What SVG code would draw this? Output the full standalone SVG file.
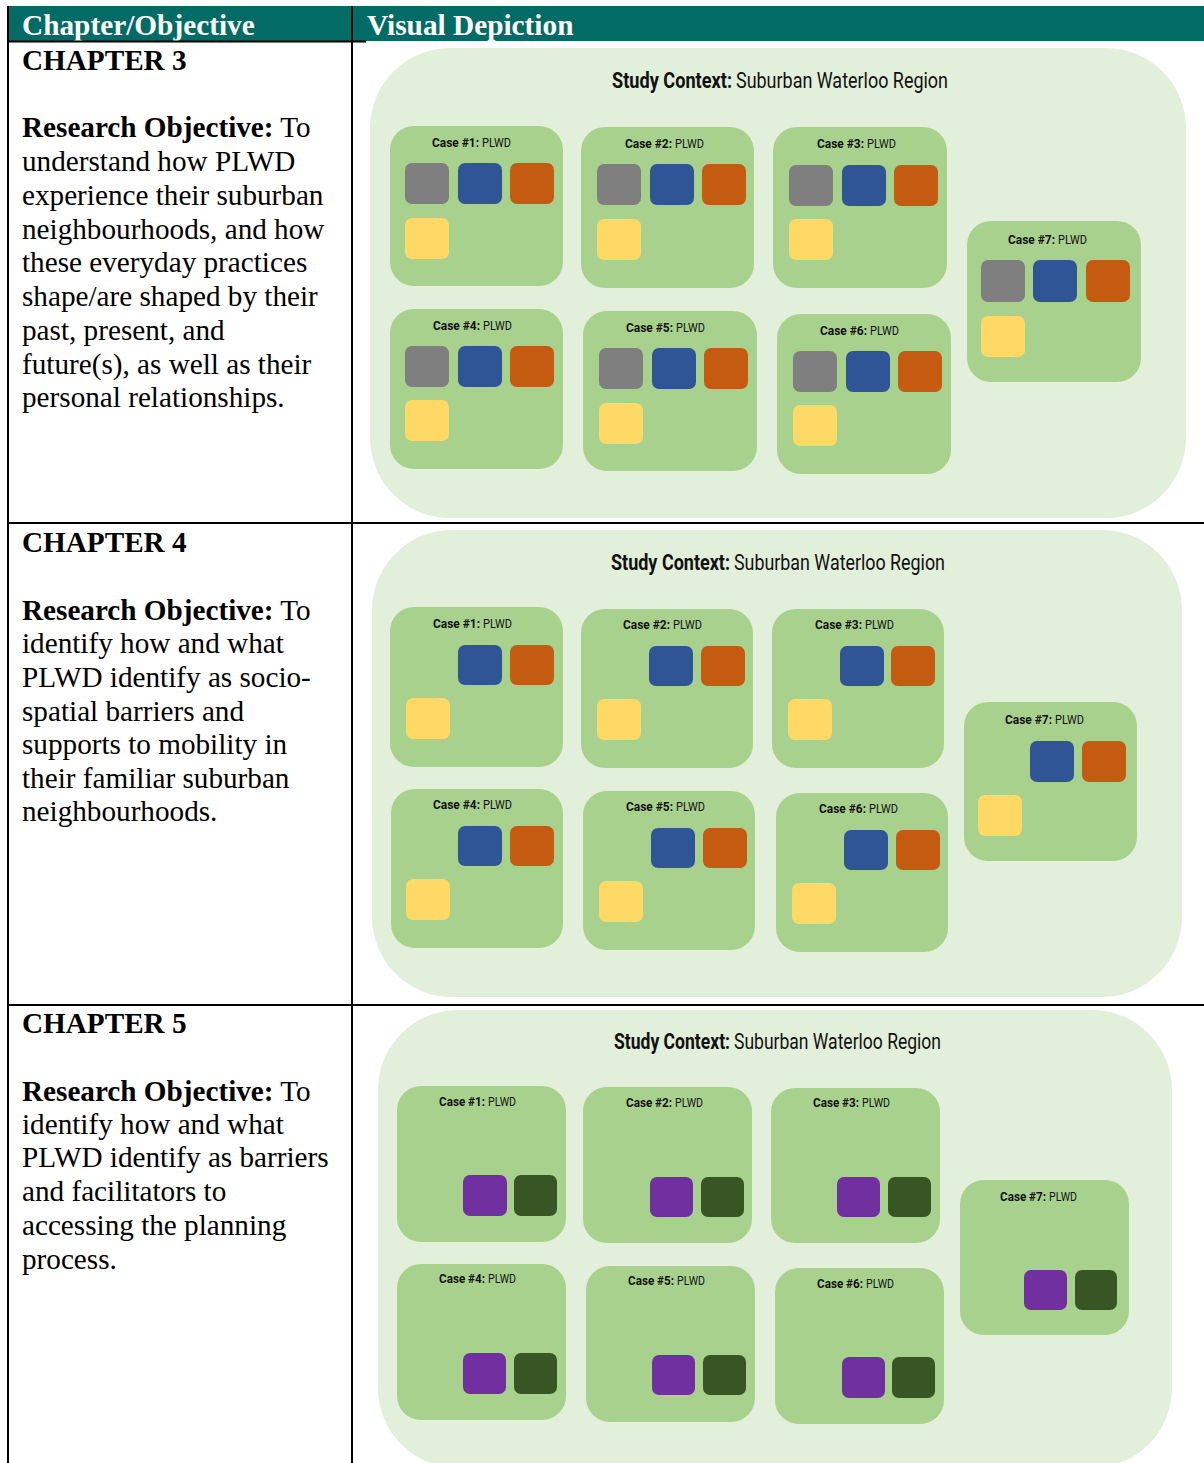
<svg xmlns="http://www.w3.org/2000/svg" width="1204" height="1463" viewBox="0 0 1204 1463">
<style>
.hdr{font-family:"Liberation Serif","Times New Roman",serif;font-weight:bold;font-size:29.3px;fill:#fff}
.lt{font-family:"Liberation Serif","Times New Roman",serif;font-size:29.2px;fill:#000}
.b{font-weight:bold}
.panel{fill:#E2EFDA}
.case{fill:#A9D18E}
.ttl{font-family:"Roboto","DejaVu Sans Condensed",sans-serif;font-size:22px;fill:#111}
.cl{font-family:"Roboto","DejaVu Sans Condensed",sans-serif;font-size:13.5px;fill:#111}
.g{fill:#7F7F7F}.bl{fill:#2F5597}.o{fill:#C55A11}.y{fill:#FFD966}.p{fill:#7030A0}.dg{fill:#375623}
.ln{stroke:#000;stroke-width:2;fill:none}
</style>
<rect width="1204" height="1463" fill="#fff"/>
<g id="table">
<rect x="7" y="6" width="1197" height="35" fill="#026B66"/>
<text class="hdr" x="22" y="35">Chapter/Objective</text>
<text class="hdr" x="367" y="35">Visual Depiction</text>
<line class="ln" x1="8" y1="6" x2="8" y2="1463"/>
<line class="ln" x1="352" y1="6" x2="352" y2="1463"/>
<line class="ln" x1="8" y1="41.5" x2="366" y2="41.5"/>
<line class="ln" x1="8" y1="523" x2="1204" y2="523"/>
<line class="ln" x1="8" y1="1005" x2="1204" y2="1005"/>
</g>
<g id="ch3-text">
<text class="lt b" x="22" y="70">CHAPTER 3</text>
<text class="lt" x="22" y="137"><tspan class="b">Research Objective:</tspan> To</text>
<text class="lt" x="22" y="171">understand how PLWD</text>
<text class="lt" x="22" y="205">experience their suburban</text>
<text class="lt" x="22" y="239">neighbourhoods, and how</text>
<text class="lt" x="22" y="272">these everyday practices</text>
<text class="lt" x="22" y="306">shape/are shaped by their</text>
<text class="lt" x="22" y="340">past, present, and</text>
<text class="lt" x="22" y="374">future(s), as well as their</text>
<text class="lt" x="22" y="407">personal relationships.</text>
</g>
<g id="ch4-text">
<text class="lt b" x="22" y="552">CHAPTER 4</text>
<text class="lt" x="22" y="620"><tspan class="b">Research Objective:</tspan> To</text>
<text class="lt" x="22" y="653">identify how and what</text>
<text class="lt" x="22" y="687">PLWD identify as socio-</text>
<text class="lt" x="22" y="721">spatial barriers and</text>
<text class="lt" x="22" y="754">supports to mobility in</text>
<text class="lt" x="22" y="788">their familiar suburban</text>
<text class="lt" x="22" y="821">neighbourhoods.</text>
</g>
<g id="ch5-text">
<text class="lt b" x="22" y="1033">CHAPTER 5</text>
<text class="lt" x="22" y="1101"><tspan class="b">Research Objective:</tspan> To</text>
<text class="lt" x="22" y="1134">identify how and what</text>
<text class="lt" x="22" y="1167">PLWD identify as barriers</text>
<text class="lt" x="22" y="1201">and facilitators to</text>
<text class="lt" x="22" y="1235">accessing the planning</text>
<text class="lt" x="22" y="1269">process.</text>
</g>

<!-- Chapter 3 panel -->
<g id="ch3-panel">
<rect class="panel" x="370" y="48" width="816" height="470" rx="80"/>
<text class="ttl b" transform="translate(612,88) scale(0.83,1)" textLength="144.6" lengthAdjust="spacingAndGlyphs">Study Context:</text>
<text class="ttl" transform="translate(736,88) scale(0.83,1)" textLength="255.4" lengthAdjust="spacingAndGlyphs">Suburban Waterloo Region</text>
</g>
<g id="ch3-case1" transform="translate(390,126)">
<rect class="case" width="173" height="160" rx="24"/>
<text class="cl b" transform="translate(42,21) scale(0.85,1)" textLength="55.3" lengthAdjust="spacingAndGlyphs">Case #1:</text><text class="cl" transform="translate(92,21) scale(0.85,1)" textLength="34.1" lengthAdjust="spacingAndGlyphs">PLWD</text>
<rect class="g" x="15" y="37" width="44" height="41" rx="7"/><rect class="bl" x="68" y="37" width="44" height="41" rx="7"/><rect class="o" x="120" y="37" width="44" height="41" rx="7"/><rect class="y" x="15" y="92" width="44" height="41" rx="7"/>
</g>
<g id="ch3-case2" transform="translate(581,127)">
<rect class="case" width="173" height="161" rx="24"/>
<text class="cl b" transform="translate(44,21) scale(0.85,1)" textLength="55.3" lengthAdjust="spacingAndGlyphs">Case #2:</text><text class="cl" transform="translate(94,21) scale(0.85,1)" textLength="34.1" lengthAdjust="spacingAndGlyphs">PLWD</text>
<rect class="g" x="16" y="37" width="44" height="41" rx="7"/><rect class="bl" x="69" y="37" width="44" height="41" rx="7"/><rect class="o" x="121" y="37" width="44" height="41" rx="7"/><rect class="y" x="16" y="92" width="44" height="41" rx="7"/>
</g>
<g id="ch3-case3" transform="translate(773,127)">
<rect class="case" width="174" height="161" rx="24"/>
<text class="cl b" transform="translate(44,21) scale(0.85,1)" textLength="55.3" lengthAdjust="spacingAndGlyphs">Case #3:</text><text class="cl" transform="translate(94,21) scale(0.85,1)" textLength="34.1" lengthAdjust="spacingAndGlyphs">PLWD</text>
<rect class="g" x="16" y="38" width="44" height="41" rx="7"/><rect class="bl" x="69" y="38" width="44" height="41" rx="7"/><rect class="o" x="121" y="38" width="44" height="41" rx="7"/><rect class="y" x="16" y="92" width="44" height="41" rx="7"/>
</g>
<g id="ch3-case4" transform="translate(390,309)">
<rect class="case" width="173" height="160" rx="24"/>
<text class="cl b" transform="translate(43,21) scale(0.85,1)" textLength="55.3" lengthAdjust="spacingAndGlyphs">Case #4:</text><text class="cl" transform="translate(93,21) scale(0.85,1)" textLength="34.1" lengthAdjust="spacingAndGlyphs">PLWD</text>
<rect class="g" x="15" y="37" width="44" height="41" rx="7"/><rect class="bl" x="68" y="37" width="44" height="41" rx="7"/><rect class="o" x="120" y="37" width="44" height="41" rx="7"/><rect class="y" x="15" y="91" width="44" height="41" rx="7"/>
</g>
<g id="ch3-case5" transform="translate(583,311)">
<rect class="case" width="174" height="160" rx="24"/>
<text class="cl b" transform="translate(43,21) scale(0.85,1)" textLength="55.3" lengthAdjust="spacingAndGlyphs">Case #5:</text><text class="cl" transform="translate(93,21) scale(0.85,1)" textLength="34.1" lengthAdjust="spacingAndGlyphs">PLWD</text>
<rect class="g" x="16" y="37" width="44" height="41" rx="7"/><rect class="bl" x="69" y="37" width="44" height="41" rx="7"/><rect class="o" x="121" y="37" width="44" height="41" rx="7"/><rect class="y" x="16" y="92" width="44" height="41" rx="7"/>
</g>
<g id="ch3-case6" transform="translate(777,314)">
<rect class="case" width="174" height="160" rx="24"/>
<text class="cl b" transform="translate(43,21) scale(0.85,1)" textLength="55.3" lengthAdjust="spacingAndGlyphs">Case #6:</text><text class="cl" transform="translate(93,21) scale(0.85,1)" textLength="34.1" lengthAdjust="spacingAndGlyphs">PLWD</text>
<rect class="g" x="16" y="37" width="44" height="41" rx="7"/><rect class="bl" x="69" y="37" width="44" height="41" rx="7"/><rect class="o" x="121" y="37" width="44" height="41" rx="7"/><rect class="y" x="16" y="91" width="44" height="41" rx="7"/>
</g>
<g id="ch3-case7" transform="translate(967,221)">
<rect class="case" width="174" height="161" rx="24"/>
<text class="cl b" transform="translate(41,23) scale(0.85,1)" textLength="55.3" lengthAdjust="spacingAndGlyphs">Case #7:</text><text class="cl" transform="translate(91,23) scale(0.85,1)" textLength="34.1" lengthAdjust="spacingAndGlyphs">PLWD</text>
<rect class="g" x="14" y="39" width="44" height="42" rx="7"/><rect class="bl" x="66" y="39" width="44" height="42" rx="7"/><rect class="o" x="119" y="39" width="44" height="42" rx="7"/><rect class="y" x="14" y="95" width="44" height="41" rx="7"/>
</g>

<!-- Chapter 4 panel -->
<g id="ch4-panel">
<rect class="panel" x="372" y="530" width="810" height="467" rx="80"/>
<text class="ttl b" transform="translate(611,570) scale(0.83,1)" textLength="143.4" lengthAdjust="spacingAndGlyphs">Study Context:</text>
<text class="ttl" transform="translate(734,570) scale(0.83,1)" textLength="254.2" lengthAdjust="spacingAndGlyphs">Suburban Waterloo Region</text>
</g>
<g id="ch4-case1" transform="translate(390,607)">
<rect class="case" width="173" height="160" rx="24"/>
<text class="cl b" transform="translate(43,21) scale(0.85,1)" textLength="55.3" lengthAdjust="spacingAndGlyphs">Case #1:</text><text class="cl" transform="translate(93,21) scale(0.85,1)" textLength="34.1" lengthAdjust="spacingAndGlyphs">PLWD</text>
<rect class="bl" x="68" y="38" width="44" height="40" rx="7"/><rect class="o" x="120" y="38" width="44" height="40" rx="7"/><rect class="y" x="16" y="91" width="44" height="41" rx="7"/>
</g>
<g id="ch4-case2" transform="translate(581,609)">
<rect class="case" width="172" height="159" rx="24"/>
<text class="cl b" transform="translate(42,20) scale(0.85,1)" textLength="55.3" lengthAdjust="spacingAndGlyphs">Case #2:</text><text class="cl" transform="translate(92,20) scale(0.85,1)" textLength="34.1" lengthAdjust="spacingAndGlyphs">PLWD</text>
<rect class="bl" x="68" y="37" width="44" height="40" rx="7"/><rect class="o" x="120" y="37" width="44" height="40" rx="7"/><rect class="y" x="16" y="90" width="44" height="41" rx="7"/>
</g>
<g id="ch4-case3" transform="translate(772,609)">
<rect class="case" width="172" height="159" rx="24"/>
<text class="cl b" transform="translate(43,20) scale(0.85,1)" textLength="55.3" lengthAdjust="spacingAndGlyphs">Case #3:</text><text class="cl" transform="translate(93,20) scale(0.85,1)" textLength="34.1" lengthAdjust="spacingAndGlyphs">PLWD</text>
<rect class="bl" x="68" y="37" width="44" height="40" rx="7"/><rect class="o" x="119" y="37" width="44" height="40" rx="7"/><rect class="y" x="16" y="90" width="44" height="41" rx="7"/>
</g>
<g id="ch4-case4" transform="translate(391,789)">
<rect class="case" width="172" height="159" rx="24"/>
<text class="cl b" transform="translate(42,20) scale(0.85,1)" textLength="55.3" lengthAdjust="spacingAndGlyphs">Case #4:</text><text class="cl" transform="translate(92,20) scale(0.85,1)" textLength="34.1" lengthAdjust="spacingAndGlyphs">PLWD</text>
<rect class="bl" x="67" y="37" width="44" height="40" rx="7"/><rect class="o" x="119" y="37" width="44" height="40" rx="7"/><rect class="y" x="15" y="90" width="44" height="41" rx="7"/>
</g>
<g id="ch4-case5" transform="translate(583,791)">
<rect class="case" width="172" height="159" rx="24"/>
<text class="cl b" transform="translate(43,20) scale(0.85,1)" textLength="55.3" lengthAdjust="spacingAndGlyphs">Case #5:</text><text class="cl" transform="translate(93,20) scale(0.85,1)" textLength="34.1" lengthAdjust="spacingAndGlyphs">PLWD</text>
<rect class="bl" x="68" y="37" width="44" height="40" rx="7"/><rect class="o" x="120" y="37" width="44" height="40" rx="7"/><rect class="y" x="16" y="90" width="44" height="41" rx="7"/>
</g>
<g id="ch4-case6" transform="translate(776,793)">
<rect class="case" width="172" height="159" rx="24"/>
<text class="cl b" transform="translate(43,20) scale(0.85,1)" textLength="55.3" lengthAdjust="spacingAndGlyphs">Case #6:</text><text class="cl" transform="translate(93,20) scale(0.85,1)" textLength="34.1" lengthAdjust="spacingAndGlyphs">PLWD</text>
<rect class="bl" x="68" y="37" width="44" height="40" rx="7"/><rect class="o" x="120" y="37" width="44" height="40" rx="7"/><rect class="y" x="16" y="90" width="44" height="41" rx="7"/>
</g>
<g id="ch4-case7" transform="translate(964,702)">
<rect class="case" width="173" height="159" rx="24"/>
<text class="cl b" transform="translate(41,22) scale(0.85,1)" textLength="55.3" lengthAdjust="spacingAndGlyphs">Case #7:</text><text class="cl" transform="translate(91,22) scale(0.85,1)" textLength="34.1" lengthAdjust="spacingAndGlyphs">PLWD</text>
<rect class="bl" x="66" y="39" width="44" height="41" rx="7"/><rect class="o" x="118" y="39" width="44" height="41" rx="7"/><rect class="y" x="14" y="93" width="44" height="41" rx="7"/>
</g>

<!-- Chapter 5 panel -->
<g id="ch5-panel">
<rect class="panel" x="378" y="1010" width="794" height="458" rx="80"/>
<text class="ttl b" transform="translate(614,1049) scale(0.83,1)" textLength="139.8" lengthAdjust="spacingAndGlyphs">Study Context:</text>
<text class="ttl" transform="translate(734,1049) scale(0.83,1)" textLength="249.4" lengthAdjust="spacingAndGlyphs">Suburban Waterloo Region</text>
</g>
<g id="ch5-case1" transform="translate(397,1086)">
<rect class="case" width="169" height="156" rx="24"/>
<text class="cl b" transform="translate(42,20) scale(0.85,1)" textLength="54.1" lengthAdjust="spacingAndGlyphs">Case #1:</text><text class="cl" transform="translate(91,20) scale(0.85,1)" textLength="32.9" lengthAdjust="spacingAndGlyphs">PLWD</text>
<rect class="p" x="66" y="89" width="44" height="41" rx="7"/><rect class="dg" x="117" y="89" width="43" height="41" rx="7"/>
</g>
<g id="ch5-case2" transform="translate(583,1087)">
<rect class="case" width="169" height="156" rx="24"/>
<text class="cl b" transform="translate(43,20) scale(0.85,1)" textLength="54.1" lengthAdjust="spacingAndGlyphs">Case #2:</text><text class="cl" transform="translate(92,20) scale(0.85,1)" textLength="32.9" lengthAdjust="spacingAndGlyphs">PLWD</text>
<rect class="p" x="67" y="90" width="43" height="40" rx="7"/><rect class="dg" x="118" y="90" width="43" height="40" rx="7"/>
</g>
<g id="ch5-case3" transform="translate(771,1088)">
<rect class="case" width="169" height="155" rx="24"/>
<text class="cl b" transform="translate(42,19) scale(0.85,1)" textLength="54.1" lengthAdjust="spacingAndGlyphs">Case #3:</text><text class="cl" transform="translate(91,19) scale(0.85,1)" textLength="32.9" lengthAdjust="spacingAndGlyphs">PLWD</text>
<rect class="p" x="66" y="89" width="43" height="40" rx="7"/><rect class="dg" x="117" y="89" width="43" height="40" rx="7"/>
</g>
<g id="ch5-case4" transform="translate(397,1264)">
<rect class="case" width="169" height="156" rx="24"/>
<text class="cl b" transform="translate(42,19) scale(0.85,1)" textLength="54.1" lengthAdjust="spacingAndGlyphs">Case #4:</text><text class="cl" transform="translate(91,19) scale(0.85,1)" textLength="32.9" lengthAdjust="spacingAndGlyphs">PLWD</text>
<rect class="p" x="66" y="89" width="43" height="41" rx="7"/><rect class="dg" x="117" y="89" width="43" height="41" rx="7"/>
</g>
<g id="ch5-case5" transform="translate(586,1266)">
<rect class="case" width="169" height="156" rx="24"/>
<text class="cl b" transform="translate(42,19) scale(0.85,1)" textLength="54.1" lengthAdjust="spacingAndGlyphs">Case #5:</text><text class="cl" transform="translate(91,19) scale(0.85,1)" textLength="32.9" lengthAdjust="spacingAndGlyphs">PLWD</text>
<rect class="p" x="66" y="89" width="43" height="40" rx="7"/><rect class="dg" x="117" y="89" width="43" height="40" rx="7"/>
</g>
<g id="ch5-case6" transform="translate(775,1268)">
<rect class="case" width="169" height="156" rx="24"/>
<text class="cl b" transform="translate(42,20) scale(0.85,1)" textLength="54.1" lengthAdjust="spacingAndGlyphs">Case #6:</text><text class="cl" transform="translate(91,20) scale(0.85,1)" textLength="32.9" lengthAdjust="spacingAndGlyphs">PLWD</text>
<rect class="p" x="67" y="89" width="43" height="41" rx="7"/><rect class="dg" x="117" y="89" width="43" height="41" rx="7"/>
</g>
<g id="ch5-case7" transform="translate(960,1180)">
<rect class="case" width="169" height="155" rx="24"/>
<text class="cl b" transform="translate(40,21) scale(0.85,1)" textLength="54.1" lengthAdjust="spacingAndGlyphs">Case #7:</text><text class="cl" transform="translate(89,21) scale(0.85,1)" textLength="32.9" lengthAdjust="spacingAndGlyphs">PLWD</text>
<rect class="p" x="64" y="90" width="43" height="40" rx="7"/><rect class="dg" x="115" y="90" width="42" height="40" rx="7"/>
</g>
</svg>
